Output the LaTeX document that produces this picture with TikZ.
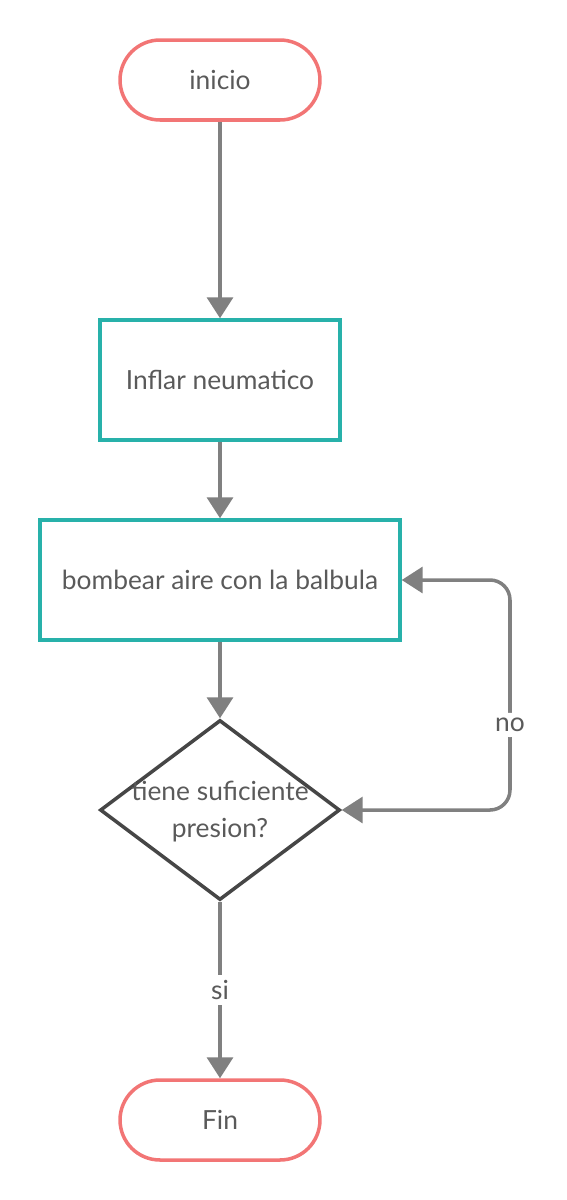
\documentclass[tikz,border=0pt]{standalone}
\usepackage{fontspec}
\setmainfont{Lato}
\usepackage{tikz}
\usetikzlibrary{shapes.geometric,arrows.meta}
\definecolor{salmon}{RGB}{242,117,117}
\definecolor{teal}{RGB}{40,177,170}
\definecolor{linegray}{RGB}{128,128,128}
\definecolor{dgray}{RGB}{70,70,70}
\definecolor{txt}{RGB}{90,90,90}
\tikzset{
  endbox/.style={draw=salmon,line width=2pt,rectangle,rounded corners=0.8cm,minimum width=4cm,minimum height=1.6cm,text=txt},
  stepbox/.style={draw=teal,line width=2pt,rectangle,minimum height=2.4cm,text=txt},
  askbox/.style={draw=dgray,line width=2pt,diamond,minimum width=4.8cm,minimum height=3.6cm,inner sep=0pt},
  flow/.style={draw=linegray,line width=2pt,-{Triangle[length=0.42cm,width=0.52cm]}},
  lbl/.style={fill=white,text=txt,inner sep=3pt}
}
\begin{document}
\begin{tikzpicture}[x=0.02cm,y=-0.02cm,font=\fontsize{15}{21}\selectfont]
\useasboundingbox (0,0) rectangle (566,1200);
\node[endbox] (ini) at (220,80) {inicio};
\node[stepbox,minimum width=4.8cm] (infl) at (220,380) {Inflar neumatico};
\node[stepbox,minimum width=7.2cm] (bomb) at (220,580) {bombear aire con la balbula};
\node[askbox] (pres) at (220,810) {};
\node[text=txt,align=center] (prestxt) at (220,812) {tiene suficiente\\presion?};
\node[endbox] (fin) at (220,1120) {Fin};
\coordinate (lo) at (510,810);
\coordinate (hi) at (510,580);
\draw[flow] (ini) -- (infl);
\draw[flow] (infl) -- (bomb);
\draw[flow] (bomb) -- (pres);
\draw[flow] (pres) -- node[lbl]{si} (fin);
\draw[flow,{Triangle[length=0.42cm,width=0.52cm]}-{Triangle[length=0.42cm,width=0.52cm]},rounded corners=0.4cm] (pres.east) -- (lo) -- node[lbl,pos=0.37]{no} (hi) -- (bomb.east);
\end{tikzpicture}
\end{document}
